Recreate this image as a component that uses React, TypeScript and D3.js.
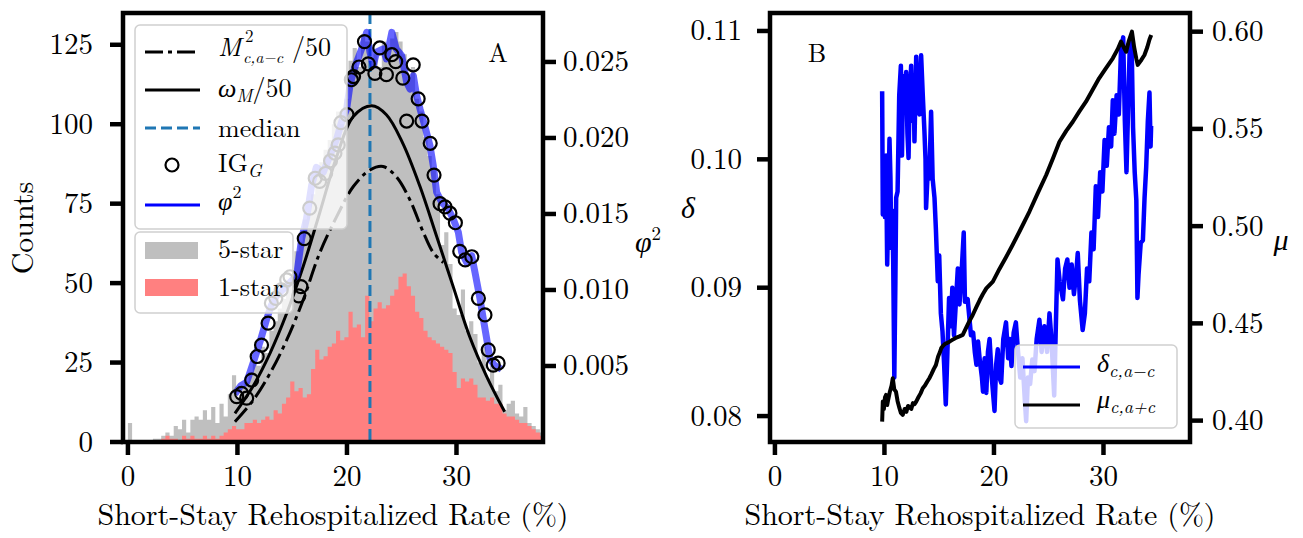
import React, { useEffect, useRef } from 'react';
import * as d3 from 'd3';

const W = 1303;
const H = 538;
const FONT = '"Latin Modern Roman", "Liberation Serif", serif';

// histogram bins (width 0.38, starting at 0)
const binWidth = 0.38;
const fiveStar = [
  6, 0, 0, 0, 0, 0, 1, 1, 2, 3, 2, 5, 4, 7, 3, 7, 8, 7, 10, 7,
  11, 6, 12, 8, 15, 21, 14, 17, 19, 22, 25, 24, 30, 28, 35, 38, 42, 45, 50, 52,
  60, 63, 70, 72, 78, 85, 88, 92, 95, 100, 104, 100, 108, 120, 124, 118, 128, 126, 120, 122,
  118, 126, 124, 127, 129, 126, 122, 115, 118, 108, 104, 96, 90, 86, 78, 62, 66, 56, 42, 40,
  48, 35, 38, 34, 25, 30, 20, 24, 16, 18, 10, 12, 13, 9, 8, 11, 6, 5, 4, 3
];
const oneStar = [
  0, 0, 0, 0, 0, 0, 0, 0, 1, 2, 1, 1, 0, 2, 1, 2, 1, 1, 2, 1,
  2, 1, 2, 3, 4, 5, 4, 4, 6, 6, 7, 6, 7, 8, 7, 10, 9, 12, 14, 19,
  16, 17, 14, 15, 23, 29, 26, 27, 30, 31, 35, 32, 33, 41, 36, 37, 33, 46, 38, 42,
  44, 42, 43, 46, 48, 52, 53, 49, 46, 41, 39, 35, 33, 32, 31, 30, 29, 28, 22, 17,
  20, 19, 20, 18, 14, 14, 13, 14, 12, 12, 9, 8, 8, 7, 6, 6, 5, 4, 3, 2
];
const medianRate = 22.1;

// IG_G markers (counts scale)
const igG: [number, number][] = [
  [9.93, 14.3], [10.38, 15.3], [10.84, 13.8], [11.3, 19.5], [11.8, 26.9], [12.2, 30.5], [12.8, 37.4],
  [13.1, 43.7], [13.5, 45.2], [14.0, 47.9], [14.5, 51], [14.8, 52], [15.6, 46], [15.8, 48.9],
  [16.1, 64], [16.6, 73.6], [17.1, 83], [17.5, 82], [18.05, 84.5], [18.5, 88.5], [18.9, 90.9],
  [19.2, 93.5], [19.45, 100.5], [20.0, 103], [20.4, 114], [20.6, 115], [21.1, 118], [21.6, 126],
  [21.95, 119], [22.55, 116], [23.0, 124], [23.6, 115.6], [24.1, 121.9], [24.45, 119.7], [25.1, 114.5],
  [25.45, 101], [26.05, 118.7], [26.5, 108], [26.85, 101], [27.6, 94], [27.95, 84], [28.5, 75],
  [28.95, 74], [29.4, 72], [29.9, 69], [30.3, 60], [30.8, 57.3], [31.4, 58.3], [32.0, 45.2],
  [32.6, 40], [32.9, 29], [33.36, 24.2], [33.8, 24.8]
];

// phi^2 (right axis)
const phi2: [number, number][] = [
  [9.77, 0.00316], [10.3, 0.0037], [10.84, 0.00393], [11.45, 0.00524], [12.05, 0.00656], [12.67, 0.00809],
  [13.1, 0.0090], [13.58, 0.00963], [14.5, 0.01028], [15.4, 0.01094], [15.86, 0.01336], [16.3, 0.01467],
  [16.77, 0.01686], [17.2, 0.01807], [17.84, 0.01774], [18.45, 0.01884], [19.06, 0.01993], [19.5, 0.02103],
  [19.97, 0.02191], [20.27, 0.02344], [20.58, 0.02432], [20.88, 0.02498], [21.34, 0.02586], [21.8, 0.02695],
  [22.1, 0.02564], [22.4, 0.02476], [22.7, 0.02564], [23.3, 0.02586], [23.6, 0.0252], [24.1, 0.02695],
  [24.5, 0.02586], [25.0, 0.02541], [25.45, 0.02366], [25.75, 0.02322], [26.06, 0.0241], [26.36, 0.02278],
  [26.67, 0.02191], [27.1, 0.02081], [27.58, 0.01949], [27.88, 0.01818], [28.19, 0.01643], [28.65, 0.01577],
  [29.25, 0.01533], [29.7, 0.01467], [30.17, 0.0138], [30.47, 0.01248], [30.93, 0.01182], [31.39, 0.01226],
  [31.69, 0.01116], [32.15, 0.00941], [32.45, 0.00809], [32.76, 0.00678], [33.06, 0.00546], [33.5, 0.00502],
  [34.1, 0.0048]
];

// omega_M / 50 (counts)
const omegaM: [number, number][] = [
  [9.77, 9.0], [11.45, 17.7], [12.97, 27.9], [14.5, 40.5], [16.0, 55.2], [17.5, 72], [19.06, 89.8],
  [20.58, 102.4], [22.25, 105.8], [23.6, 103], [25.1, 94], [26.67, 80.4], [28.2, 64.6], [29.7, 48.9],
  [31.2, 33.2], [32.76, 20.6], [34.4, 9.5]
];

// M^2 / 50 (counts)
const m2: [number, number][] = [
  [9.77, 6.4], [11.45, 13.2], [12.97, 21.6], [14.5, 32.1], [16.0, 44.7], [17.5, 59.4], [19.06, 70.9],
  [20.58, 80.4], [22.1, 85.6], [23.3, 86.7], [24.5, 83.5], [25.75, 76.2], [26.97, 66], [27.9, 59.5],
  [28.8, 56.5]
];

// panel B
const delta: [number, number][] = [
  [9.79, 0.1053], [9.85, 0.0957], [9.95, 0.0990], [10.05, 0.0955], [10.15, 0.1003], [10.25, 0.0918],
  [10.35, 0.0960], [10.46, 0.1016], [10.55, 0.0985], [10.62, 0.0931], [10.72, 0.0960], [10.8, 0.0920],
  [10.9, 0.0830], [11.0, 0.0905], [11.07, 0.0970], [11.2, 0.0975], [11.35, 0.1050], [11.5, 0.1073],
  [11.6, 0.1003], [11.7, 0.1065], [11.85, 0.1040], [11.98, 0.1068], [12.1, 0.1020], [12.2, 0.1001],
  [12.3, 0.1050], [12.44, 0.1073], [12.55, 0.1030], [12.65, 0.1065], [12.74, 0.1014], [12.9, 0.1080],
  [13.05, 0.1040], [13.2, 0.1035], [13.35, 0.1081], [13.5, 0.1050], [13.65, 0.1022], [13.75, 0.1000],
  [13.8, 0.0962], [13.95, 0.0990], [14.1, 0.0985], [14.26, 0.1037], [14.4, 0.0985], [14.57, 0.0970],
  [14.7, 0.0945], [14.87, 0.0905], [15.0, 0.0925], [15.15, 0.0880], [15.3, 0.0866], [15.45, 0.0840],
  [15.6, 0.0809], [15.75, 0.0850], [15.9, 0.0892], [16.05, 0.0870], [16.2, 0.0900], [16.35, 0.0863],
  [16.5, 0.0885], [16.7, 0.0915], [16.85, 0.0887], [17.0, 0.0905], [17.24, 0.0943], [17.35, 0.0889],
  [17.6, 0.0891], [17.9, 0.0863], [18.1, 0.0865], [18.25, 0.0850], [18.4, 0.0840], [18.55, 0.0858],
  [18.7, 0.0844], [18.9, 0.0830], [19.0, 0.0819], [19.15, 0.0845], [19.3, 0.0818], [19.45, 0.0850],
  [19.6, 0.0860], [19.8, 0.0830], [20.05, 0.0804], [20.2, 0.0840], [20.35, 0.0852], [20.5, 0.0830],
  [20.66, 0.0826], [20.85, 0.0860], [21.1, 0.0873], [21.3, 0.0845], [21.45, 0.0860], [21.6, 0.0839],
  [21.8, 0.0865], [22.0, 0.0873], [22.2, 0.0850], [22.4, 0.0830], [22.6, 0.0845], [22.8, 0.0815],
  [22.94, 0.0796], [23.1, 0.0830], [23.3, 0.0825], [23.5, 0.0844], [23.7, 0.0835], [23.9, 0.0860],
  [24.15, 0.0875], [24.35, 0.0850], [24.6, 0.0870], [24.85, 0.0850], [25.07, 0.0880], [25.25, 0.0860],
  [25.5, 0.0816], [25.65, 0.0870], [25.8, 0.0922], [26.0, 0.0905], [26.3, 0.0891], [26.5, 0.0915],
  [26.7, 0.0922], [26.9, 0.0900], [27.1, 0.0918], [27.3, 0.0895], [27.5, 0.0910], [27.65, 0.0927],
  [27.85, 0.0890], [28.1, 0.0867], [28.3, 0.0880], [28.5, 0.0915], [28.7, 0.0905], [28.9, 0.0943],
  [29.1, 0.0930], [29.3, 0.0979], [29.5, 0.0955], [29.7, 0.0990], [29.9, 0.0975], [30.1, 0.1015],
  [30.3, 0.0995], [30.5, 0.1025], [30.7, 0.1010], [30.85, 0.1046], [31.0, 0.1020], [31.2, 0.1050],
  [31.4, 0.1035], [31.6, 0.1085], [31.8, 0.1095], [31.95, 0.1030], [32.1, 0.0990], [32.25, 0.1040],
  [32.4, 0.1088], [32.56, 0.1095], [32.7, 0.1025], [32.85, 0.0990], [33.0, 0.0968], [33.1, 0.0892],
  [33.2, 0.0910], [33.4, 0.0935], [33.6, 0.0937], [33.75, 0.0970], [33.9, 0.0994], [34.05, 0.1030],
  [34.2, 0.1052], [34.3, 0.1010], [34.35, 0.1026]
];
const mu: [number, number][] = [
  [9.79, 0.3995], [9.85, 0.4098], [9.95, 0.4060], [10.05, 0.4120], [10.15, 0.4132], [10.25, 0.4080],
  [10.35, 0.4110], [10.5, 0.4150], [10.65, 0.4180], [10.76, 0.4218], [10.9, 0.4160], [11.05, 0.4149],
  [11.2, 0.4100], [11.37, 0.4064], [11.5, 0.4040], [11.67, 0.4030], [11.85, 0.4060], [12.0, 0.4045],
  [12.15, 0.4075], [12.28, 0.4070], [12.45, 0.4060], [12.6, 0.4090], [12.75, 0.4085], [12.9, 0.4098],
  [13.1, 0.4120], [13.3, 0.4140], [13.5, 0.4166], [13.7, 0.4180], [13.9, 0.4200], [14.1, 0.4218],
  [14.3, 0.4240], [14.5, 0.4265], [14.7, 0.4286], [14.9, 0.4330], [15.05, 0.4350], [15.18, 0.4372],
  [15.35, 0.4385], [15.55, 0.4395], [15.75, 0.4400], [15.94, 0.4406], [16.2, 0.4415], [16.5, 0.4425],
  [16.8, 0.4432], [17.15, 0.4441], [17.4, 0.4470], [17.7, 0.4505], [18.06, 0.4543], [18.4, 0.4585],
  [18.7, 0.4620], [18.98, 0.4650], [19.3, 0.4680], [19.9, 0.4715], [20.5, 0.4780], [21.1, 0.4840],
  [21.7, 0.4903], [22.4, 0.4980], [23.24, 0.5075], [24.0, 0.5170], [24.77, 0.5263], [25.4, 0.5350],
  [25.98, 0.5434], [26.6, 0.5490], [27.2, 0.5537], [27.8, 0.5590], [28.4, 0.5640], [29.0, 0.5700],
  [29.6, 0.5760], [30.2, 0.5810], [30.85, 0.5863], [31.3, 0.5910], [31.6, 0.5949], [31.85, 0.5920],
  [32.07, 0.5897], [32.3, 0.5950], [32.6, 0.6000], [32.8, 0.5920], [33.0, 0.5860], [33.13, 0.5829],
  [33.4, 0.5850], [33.74, 0.5880], [34.0, 0.5920], [34.2, 0.5960], [34.36, 0.5983]
];

const xTicks = [0, 10, 20, 30];
const countTicks = [0, 25, 50, 75, 100, 125];
const phiTicks = [0.005, 0.010, 0.015, 0.020, 0.025];
const deltaTicks = [0.08, 0.09, 0.10, 0.11];
const muTicks = [0.40, 0.45, 0.50, 0.55, 0.60];

type Part = { t: string; it?: boolean; size?: number; dx?: number; dy?: number };

function mathText(g: any, x: number, y: number, parts: Part[], size: number, anchor = 'start') {
  const t = g.append('text')
    .attr('x', x).attr('y', y)
    .style('font-family', FONT)
    .style('font-size', size + 'px')
    .attr('text-anchor', anchor)
    .attr('fill', '#000');
  parts.forEach(p => {
    const s = t.append('tspan').text(p.t);
    if (p.it) s.style('font-style', 'italic');
    if (p.size) s.style('font-size', p.size + 'px');
    if (p.dx) s.attr('dx', p.dx);
    if (p.dy) s.attr('dy', p.dy);
  });
  return t;
}

export default function App() {
  const ref = useRef<SVGSVGElement>(null);

  useEffect(() => {
    const svg = d3.select(ref.current);
    svg.selectAll('*').remove();

    const fs = 29;
    const labelFs = 30;
    const legendFs = 26;
    const spineW = 4.5;
    const tickLen = 13;

    const xDomain: [number, number] = [-0.45, 37.9];
    const top = 13, bottom = 442;

    // ---------- Panel A ----------
    const aL = 123, aR = 543;
    const xA = d3.scaleLinear().domain(xDomain).range([aL, aR]);
    const yCount = d3.scaleLinear().domain([0, 135]).range([bottom, top]);
    const yPhi = d3.scaleLinear().domain([0, 0.02822]).range([bottom, top]);

    const defs = svg.append('defs');
    defs.append('clipPath').attr('id', 'clipA').append('rect')
      .attr('x', aL).attr('y', top).attr('width', aR - aL).attr('height', bottom - top);

    const gA = svg.append('g').attr('clip-path', 'url(#clipA)');

    const histArea = (vals: number[]) => {
      const pts: [number, number][] = vals.map((v, i) => [i * binWidth, v]);
      pts.push([vals.length * binWidth, vals[vals.length - 1]]);
      return d3.area<[number, number]>()
        .x(d => xA(d[0]))
        .y0(yCount(0))
        .y1(d => yCount(d[1]))
        .curve(d3.curveStepAfter)(pts);
    };
    gA.append('path').attr('d', histArea(fiveStar)).attr('fill', '#bfbfbf');
    gA.append('path').attr('d', histArea(oneStar)).attr('fill', '#ff8080');

    gA.append('line')
      .attr('x1', xA(medianRate)).attr('x2', xA(medianRate))
      .attr('y1', top).attr('y2', bottom)
      .attr('stroke', '#1f77b4').attr('stroke-width', 3).attr('stroke-dasharray', '11,5');

    const lineCount = d3.line<[number, number]>().x(d => xA(d[0])).y(d => yCount(d[1])).curve(d3.curveCatmullRom);
    gA.append('path').attr('d', lineCount(omegaM)).attr('fill', 'none')
      .attr('stroke', '#000').attr('stroke-width', 3);
    gA.append('path').attr('d', lineCount(m2)).attr('fill', 'none')
      .attr('stroke', '#000').attr('stroke-width', 3).attr('stroke-dasharray', '18,5,4,5');

    const linePhi = d3.line<[number, number]>().x(d => xA(d[0])).y(d => yPhi(d[1]));
    gA.append('path').attr('d', linePhi(phi2)).attr('fill', 'none')
      .attr('stroke', '#0000ff').attr('stroke-opacity', 0.6).attr('stroke-width', 7)
      .attr('stroke-linejoin', 'round');

    gA.selectAll('circle.ig').data(igG).enter().append('circle')
      .attr('cx', d => xA(d[0])).attr('cy', d => yCount(d[1])).attr('r', 6.5)
      .attr('fill', 'none').attr('stroke', '#000').attr('stroke-width', 2.2);

    // legends A
    const legA = svg.append('g');
    legA.append('rect').attr('x', 135).attr('y', 25).attr('width', 212).attr('height', 204).attr('rx', 5)
      .attr('fill', '#fff').attr('fill-opacity', 0.8).attr('stroke', '#d0d0d0').attr('stroke-width', 1.5);
    legA.append('line').attr('x1', 145).attr('x2', 200).attr('y1', 52).attr('y2', 52)
      .attr('stroke', '#000').attr('stroke-width', 3).attr('stroke-dasharray', '18,5,4,5');
    legA.append('line').attr('x1', 145).attr('x2', 200).attr('y1', 90).attr('y2', 90)
      .attr('stroke', '#000').attr('stroke-width', 3);
    legA.append('line').attr('x1', 145).attr('x2', 200).attr('y1', 128).attr('y2', 128)
      .attr('stroke', '#1f77b4').attr('stroke-width', 3).attr('stroke-dasharray', '11,5');
    legA.append('circle').attr('cx', 172).attr('cy', 165).attr('r', 6.5)
      .attr('fill', 'none').attr('stroke', '#000').attr('stroke-width', 2.2);
    legA.append('line').attr('x1', 145).attr('x2', 200).attr('y1', 205).attr('y2', 205)
      .attr('stroke', '#0000ff').attr('stroke-width', 3);
    const lx = 218;
    // M^2_{c,a-c}/50 : superscript and subscript stacked as separate texts
    mathText(legA, lx, 56, [{ t: 'M', it: true }], legendFs);
    mathText(legA, lx + 27, 42, [{ t: '2' }], 17);
    mathText(legA, lx + 25, 63, [{ t: 'c,a−c', it: true }], 16);
    mathText(legA, lx + 74, 56, [{ t: '/50' }], legendFs);
    mathText(legA, lx, 97, [{ t: 'ω', it: true }, { t: 'M', it: true, size: 18, dy: 5 }, { t: '/50', dy: -5 }], legendFs);
    mathText(legA, lx, 137, [{ t: 'median' }], legendFs);
    mathText(legA, lx, 172, [{ t: 'IG' }, { t: 'G', it: true, size: 18, dy: 5 }], legendFs);
    mathText(legA, lx, 210, [{ t: 'φ', it: true }, { t: '2', size: 18, dy: -12 }], legendFs);

    legA.append('rect').attr('x', 135).attr('y', 232).attr('width', 158).attr('height', 81).attr('rx', 5)
      .attr('fill', '#fff').attr('fill-opacity', 0.8).attr('stroke', '#d0d0d0').attr('stroke-width', 1.5);
    legA.append('rect').attr('x', 145).attr('y', 242).attr('width', 53).attr('height', 17).attr('fill', '#bfbfbf');
    legA.append('rect').attr('x', 145).attr('y', 279).attr('width', 53).attr('height', 17).attr('fill', '#ff8080');
    mathText(legA, lx, 258, [{ t: '5-star' }], legendFs);
    mathText(legA, lx, 296, [{ t: '1-star' }], legendFs);

    mathText(svg, 498, 62, [{ t: 'A' }], legendFs, 'middle');

    // axes A
    const axA = svg.append('g');
    axA.append('rect').attr('x', aL).attr('y', top).attr('width', aR - aL).attr('height', bottom - top)
      .attr('fill', 'none').attr('stroke', '#000').attr('stroke-width', spineW);
    xTicks.forEach(v => {
      axA.append('line').attr('x1', xA(v)).attr('x2', xA(v)).attr('y1', bottom).attr('y2', bottom + tickLen)
        .attr('stroke', '#000').attr('stroke-width', spineW);
      mathText(axA, xA(v), 486, [{ t: String(v) }], fs, 'middle');
    });
    countTicks.forEach(v => {
      axA.append('line').attr('x1', aL - tickLen).attr('x2', aL).attr('y1', yCount(v)).attr('y2', yCount(v))
        .attr('stroke', '#000').attr('stroke-width', spineW);
      mathText(axA, 93, yCount(v) + 9.5, [{ t: String(v) }], fs, 'end');
    });
    phiTicks.forEach(v => {
      axA.append('line').attr('x1', aR).attr('x2', aR + tickLen).attr('y1', yPhi(v)).attr('y2', yPhi(v))
        .attr('stroke', '#000').attr('stroke-width', spineW);
      mathText(axA, 563, yPhi(v) + 9.5, [{ t: v.toFixed(3) }], fs, 'start');
    });
    mathText(axA, (aL + aR) / 2, 525, [{ t: 'Short-Stay Rehospitalized Rate (%)' }], labelFs, 'middle');
    mathText(axA, 0, 0, [{ t: 'Counts' }], labelFs, 'middle').attr('transform', 'translate(33,228) rotate(-90)');
    mathText(axA, 648, 252, [{ t: 'φ', it: true }, { t: '2', size: 19, dy: -12 }], labelFs, 'middle');

    // ---------- Panel B ----------
    const bL = 770, bR = 1190;
    const xB = d3.scaleLinear().domain(xDomain).range([bL, bR]);
    const yDelta = d3.scaleLinear().domain([0.07798, 0.1114]).range([bottom, top]);
    const yMu = d3.scaleLinear().domain([0.389, 0.6096]).range([bottom, top]);

    defs.append('clipPath').attr('id', 'clipB').append('rect')
      .attr('x', bL).attr('y', top).attr('width', bR - bL).attr('height', bottom - top);
    const gB = svg.append('g').attr('clip-path', 'url(#clipB)');
    gB.append('path')
      .attr('d', d3.line<[number, number]>().x(d => xB(d[0])).y(d => yDelta(d[1]))(delta))
      .attr('fill', 'none').attr('stroke', '#0000ff').attr('stroke-width', 4.5).attr('stroke-linejoin', 'round');
    gB.append('path')
      .attr('d', d3.line<[number, number]>().x(d => xB(d[0])).y(d => yMu(d[1]))(mu))
      .attr('fill', 'none').attr('stroke', '#000').attr('stroke-width', 4).attr('stroke-linejoin', 'round');

    const legB = svg.append('g');
    legB.append('rect').attr('x', 1015).attr('y', 345).attr('width', 162).attr('height', 83).attr('rx', 5)
      .attr('fill', '#fff').attr('fill-opacity', 0.8).attr('stroke', '#d0d0d0').attr('stroke-width', 1.5);
    legB.append('line').attr('x1', 1023).attr('x2', 1080).attr('y1', 367).attr('y2', 367)
      .attr('stroke', '#0000ff').attr('stroke-width', 3);
    legB.append('line').attr('x1', 1023).attr('x2', 1080).attr('y1', 405).attr('y2', 405)
      .attr('stroke', '#000').attr('stroke-width', 3);
    mathText(legB, 1097, 372, [{ t: 'δ', it: true }, { t: 'c,a−c', it: true, size: 18, dy: 5 }], legendFs);
    mathText(legB, 1097, 408, [{ t: 'μ', it: true }, { t: 'c,a+c', it: true, size: 18, dy: 5 }], legendFs);

    mathText(svg, 817, 62, [{ t: 'B' }], legendFs, 'middle');

    const axB = svg.append('g');
    axB.append('rect').attr('x', bL).attr('y', top).attr('width', bR - bL).attr('height', bottom - top)
      .attr('fill', 'none').attr('stroke', '#000').attr('stroke-width', spineW);
    xTicks.forEach(v => {
      axB.append('line').attr('x1', xB(v)).attr('x2', xB(v)).attr('y1', bottom).attr('y2', bottom + tickLen)
        .attr('stroke', '#000').attr('stroke-width', spineW);
      mathText(axB, xB(v), 486, [{ t: String(v) }], fs, 'middle');
    });
    deltaTicks.forEach(v => {
      axB.append('line').attr('x1', bL - tickLen).attr('x2', bL).attr('y1', yDelta(v)).attr('y2', yDelta(v))
        .attr('stroke', '#000').attr('stroke-width', spineW);
      mathText(axB, 742, yDelta(v) + 9.5, [{ t: v.toFixed(2) }], fs, 'end');
    });
    muTicks.forEach(v => {
      axB.append('line').attr('x1', bR).attr('x2', bR + tickLen).attr('y1', yMu(v)).attr('y2', yMu(v))
        .attr('stroke', '#000').attr('stroke-width', spineW);
      mathText(axB, 1212, yMu(v) + 9.5, [{ t: v.toFixed(2) }], fs, 'start');
    });
    mathText(axB, (bL + bR) / 2, 525, [{ t: 'Short-Stay Rehospitalized Rate (%)' }], labelFs, 'middle');
    mathText(axB, 688, 218, [{ t: 'δ', it: true }], labelFs, 'middle');
    mathText(axB, 1281, 250, [{ t: 'μ', it: true }], labelFs, 'middle');
  }, []);

  return (
    <svg ref={ref} width={W} height={H}
      style={{ position: 'absolute', left: 0, top: 0, background: '#fff' }} />
  );
}
